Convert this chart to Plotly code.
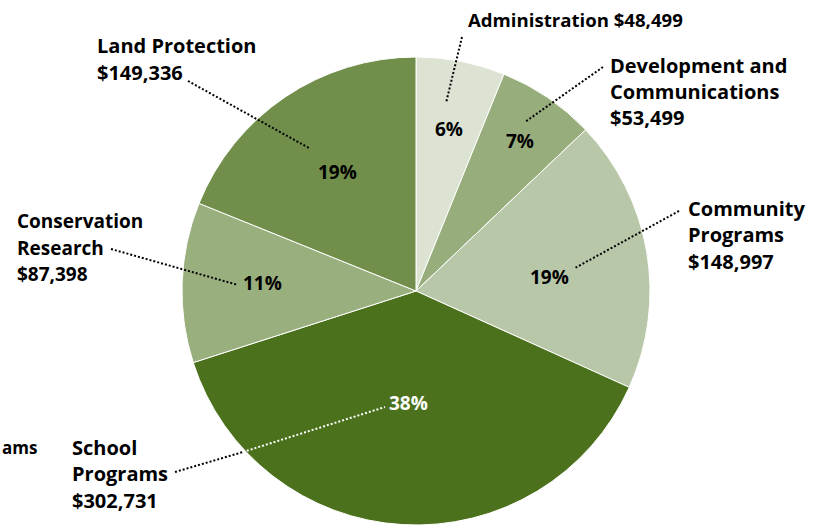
import plotly.graph_objects as go

categories = ["Administration", "Development and Communications", "Community Programs",
              "School Programs", "Conservation Research", "Land Protection"]
display_names = ["Administration", "Development and<br>Communications", "Community<br>Programs",
                 "School<br>Programs", "Conservation<br>Research", "Land Protection"]
values = [48499, 53499, 148997, 302731, 87398, 149336]
colors = ["#dce3d3", "#97ad7b", "#b8c7a8", "#4b711d", "#9aaf7e", "#718e4a"]

W, H = 818, 525
FONT = "Open Sans"
FS = 20

def px(x):
    return x / W

def py(y):
    return 1 - y / H

# pie geometry (pixels)
cx, cy, R = 416, 291, 234

fig = go.Figure(go.Pie(
    labels=categories, values=values, sort=False, direction="clockwise", rotation=0,
    marker=dict(colors=colors, line=dict(color="white", width=1)),
    textinfo="none", hoverinfo="label+value+percent", showlegend=False,
    domain=dict(x=[px(cx - R), px(cx + R)], y=[py(cy + R), py(cy - R)]),
))

total = sum(values)
pct_text = [f"{round(v / total * 100)}%" for v in values]
pct_pos = [(449, 129), (520, 141), (549, 277), (408, 403), (262, 283), (337, 172)]
pct_color = ["black", "black", "black", "white", "black", "black"]

annotations = []
for t, (x, y), c in zip(pct_text, pct_pos, pct_color):
    annotations.append(dict(x=px(x), y=py(y), xref="paper", yref="paper", text=f"<b>{t}</b>",
                            showarrow=False, xanchor="center", yanchor="middle",
                            font=dict(family=FONT, size=19, color=c)))

# category labels: (left x, first line center y, font size)
label_pos = [(466, 19, 18.6), (608, 65, FS), (686, 208, FS), (70, 447, FS), (15, 221, 19), (95, 46, FS)]
LINE = 26.5
for i, (name, v, (x, y, fs)) in enumerate(zip(display_names, values, label_pos)):
    if i == 0:
        lines = [f"{name} ${v:,}"]
    else:
        lines = name.split("<br>") + [f"${v:,}"]
    for k, ln in enumerate(lines):
        annotations.append(dict(x=px(x), y=py(y + k * LINE), xref="paper", yref="paper",
                                text=f"<b>{ln}</b>", showarrow=False,
                                xanchor="left", yanchor="middle", align="left",
                                font=dict(family=FONT, size=fs, color="black")))
# fragment of a label at the far left edge, as shown in the reference
annotations.append(dict(x=0, y=py(447), xref="paper", yref="paper", text="<b>ams</b>",
                        showarrow=False, xanchor="left", yanchor="middle",
                        font=dict(family=FONT, size=17, color="black")))

leaders = [
    ((462, 37), (446, 103), "black"),
    ((603, 67), (525, 122), "black"),
    ((679, 211), (575, 268), "black"),
    ((175, 472), (243, 452), "black"),
    ((243, 452), (385, 407), "white"),
    ((111, 249), (238, 285), "black"),
    ((188, 81), (309, 148), "black"),
]
shapes = []
for (x0, y0), (x1, y1), c in leaders:
    shapes.append(dict(type="line", xref="paper", yref="paper",
                       x0=px(x0), y0=py(y0), x1=px(x1), y1=py(y1),
                       line=dict(color=c, width=2, dash="2px,2px")))

fig.update_layout(
    width=W, height=H, margin=dict(l=0, r=0, t=0, b=0),
    paper_bgcolor="white", plot_bgcolor="white",
    annotations=annotations, shapes=shapes,
)
fig.write_html("out.html")
